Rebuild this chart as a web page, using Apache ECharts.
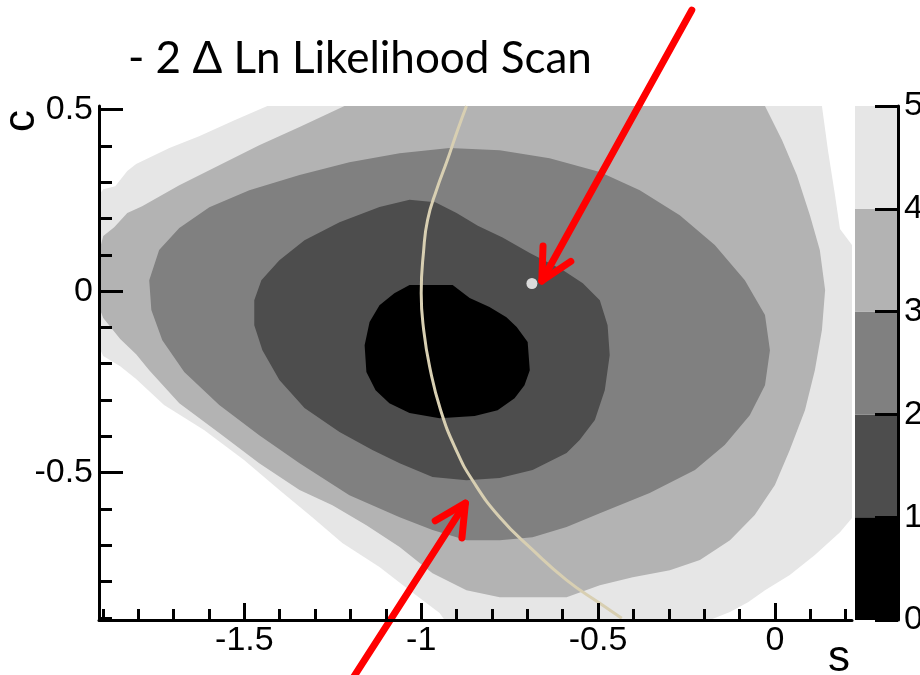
<!DOCTYPE html>
<html>
<head>
<meta charset="utf-8">
<script src="https://cdn.jsdelivr.net/npm/echarts@6/dist/echarts.min.js"></script>
<style>
  html, body { margin: 0; padding: 0; background: #ffffff; }
  #chart { width: 920px; height: 675px; }
</style>
</head>
<body>
<div id="chart"></div>
<script>
// Axis ranges of the (s, c) scan
const sRange = [-1.911, 0.218];
const cRange = [-0.906, 0.510];

// Tick positions
const sMajorTicks = [-1.5, -1, -0.5, 0];
const sMinorTicks = [-1.9, -1.8, -1.7, -1.6, -1.4, -1.3, -1.2, -1.1, -0.9, -0.8, -0.7, -0.6,
                     -0.4, -0.3, -0.2, -0.1, 0.1, 0.2];
const cMajorTicks = [-0.5, 0, 0.5];
const cMinorTicks = [0.4, 0.3, 0.2, 0.1, -0.1, -0.2, -0.3, -0.4, -0.6, -0.7, -0.8, -0.9];

// Colour scale: -2 dLnL bands [0,1), [1,2), ... [4,5)
const zLevels = [0, 1, 2, 3, 4, 5];
const bandColors = ['#000000', '#4d4d4d', '#808080', '#b3b3b3', '#e6e6e6'];

// Contour outlines [s, c]: region where -2 dLnL is below the level
const contourBelow5 = [
  [-1.435, 0.510], [0.133, 0.510], [0.150, 0.388], [0.170, 0.264], [0.184, 0.171],
  [0.218, 0.127], [0.218, -0.625], [0.184, -0.664], [0.113, -0.727], [0.042, -0.782],
  [-0.028, -0.824], [-0.076, -0.857], [-0.127, -0.884], [-0.184, -0.906], [-0.934, -0.906],
  [-0.948, -0.887], [-1.033, -0.824], [-1.118, -0.760], [-1.223, -0.694], [-1.308, -0.623],
  [-1.401, -0.548], [-1.500, -0.466], [-1.613, -0.383], [-1.727, -0.314], [-1.806, -0.242],
  [-1.851, -0.207], [-1.899, -0.179], [-1.911, -0.154], [-1.911, 0.264], [-1.899, 0.281],
  [-1.865, 0.289], [-1.831, 0.331], [-1.806, 0.350], [-1.712, 0.394], [-1.628, 0.427],
  [-1.528, 0.471]
];
const contourBelow4 = [
  [-1.217, 0.510], [-0.028, 0.510], [0.020, 0.416], [0.062, 0.320], [0.099, 0.209],
  [0.127, 0.113], [0.142, 0.003], [0.133, -0.107], [0.113, -0.218], [0.085, -0.328],
  [0.042, -0.438], [0.000, -0.534], [-0.057, -0.617], [-0.127, -0.686], [-0.212, -0.741],
  [-0.297, -0.769], [-0.402, -0.788], [-0.495, -0.810], [-0.589, -0.843], [-0.778, -0.843],
  [-0.872, -0.824], [-0.968, -0.777], [-1.061, -0.705], [-1.155, -0.645], [-1.251, -0.590],
  [-1.344, -0.548], [-1.458, -0.474], [-1.571, -0.391], [-1.684, -0.309], [-1.769, -0.218],
  [-1.806, -0.174], [-1.851, -0.132], [-1.899, -0.074], [-1.911, -0.044], [-1.911, 0.107],
  [-1.899, 0.152], [-1.868, 0.176], [-1.831, 0.215], [-1.789, 0.234], [-1.684, 0.292],
  [-1.571, 0.347], [-1.458, 0.402], [-1.344, 0.452]
];
const contourBelow3 = [
  [-1.769, 0.030], [-1.741, 0.113], [-1.684, 0.174], [-1.599, 0.231], [-1.486, 0.278],
  [-1.344, 0.320], [-1.203, 0.355], [-1.061, 0.380], [-0.920, 0.394], [-0.778, 0.388],
  [-0.637, 0.366], [-0.495, 0.328], [-0.382, 0.278], [-0.269, 0.209], [-0.170, 0.127],
  [-0.085, 0.030], [-0.028, -0.066], [-0.014, -0.163], [-0.028, -0.259], [-0.071, -0.342],
  [-0.142, -0.424], [-0.226, -0.493], [-0.354, -0.556], [-0.495, -0.612], [-0.589, -0.650],
  [-0.685, -0.678], [-0.778, -0.686], [-0.872, -0.686], [-0.968, -0.658], [-1.061, -0.623],
  [-1.203, -0.562], [-1.344, -0.474], [-1.458, -0.397], [-1.571, -0.314], [-1.670, -0.223],
  [-1.732, -0.135], [-1.763, -0.052]
];
const contourBelow2 = [
  [-1.472, -0.025], [-1.452, 0.030], [-1.401, 0.085], [-1.330, 0.140], [-1.231, 0.190],
  [-1.118, 0.232], [-1.033, 0.252], [-0.960, 0.245], [-0.900, 0.215], [-0.840, 0.180],
  [-0.770, 0.148], [-0.693, 0.105], [-0.600, 0.058], [-0.543, 0.022], [-0.495, -0.025],
  [-0.473, -0.094], [-0.467, -0.176], [-0.481, -0.273], [-0.509, -0.355], [-0.552, -0.410],
  [-0.589, -0.446], [-0.685, -0.493], [-0.778, -0.515], [-0.872, -0.521], [-0.968, -0.512],
  [-1.061, -0.474], [-1.138, -0.438], [-1.231, -0.388], [-1.330, -0.322], [-1.401, -0.245],
  [-1.449, -0.163], [-1.472, -0.094]
];
const contourBelow1 = [
  [-1.033, 0.017], [-0.911, 0.017], [-0.863, -0.019], [-0.807, -0.044], [-0.759, -0.072],
  [-0.730, -0.099], [-0.699, -0.140], [-0.693, -0.218], [-0.708, -0.259], [-0.736, -0.295],
  [-0.784, -0.328], [-0.849, -0.344], [-0.948, -0.350], [-1.033, -0.336], [-1.090, -0.309],
  [-1.129, -0.273], [-1.155, -0.223], [-1.160, -0.149], [-1.146, -0.085], [-1.118, -0.039],
  [-1.076, -0.006]
];

// Physical boundary curve in the (s, c) plane
const boundaryCurve = [
  [-0.872, 0.510], [-0.897, 0.444], [-0.926, 0.361], [-0.957, 0.278], [-0.982, 0.196],
  [-0.993, 0.113], [-1.000, -0.006], [-0.993, -0.107], [-0.976, -0.209], [-0.945, -0.328],
  [-0.901, -0.438], [-0.855, -0.521], [-0.778, -0.623], [-0.685, -0.713], [-0.589, -0.796],
  [-0.495, -0.860], [-0.433, -0.901]
];

// Best-fit point
const bestFit = [[-0.687, 0.021]];

// Annotation arrows: [tailS, tailC, tipS, tipC]
const arrows = [
  [-0.235, 0.774, -0.659, 0.028],
  [-1.197, -1.072, -0.875, -0.584]
];

// Fill order: outermost band first
const contourSet = [contourBelow5, contourBelow4, contourBelow3, contourBelow2, contourBelow1];
const contourFill = [bandColors[4], bandColors[3], bandColors[2], bandColors[1], bandColors[0]];

const labelFont = 'Liberation Sans';
const black = '#000000';

function tickAxis(extra) {
  return Object.assign({
    type: 'value',
    z: 10,
    splitLine: { show: false },
    axisLine: { show: false, onZero: false },
    axisLabel: { show: false }
  }, extra);
}

const chart = echarts.init(document.getElementById('chart'), null, { renderer: 'canvas' });

chart.setOption({
  animation: false,
  backgroundColor: '#ffffff',
  grid: [
    { left: 99, top: 106, width: 753, height: 514, outerBoundsMode: 'none' },
    { left: 855, top: 106, width: 43, height: 514, outerBoundsMode: 'none' }
  ],
  xAxis: [
    tickAxis({
      gridIndex: 0, min: sRange[0], max: sRange[1], position: 'bottom',
      axisLine: { show: true, onZero: false, lineStyle: { color: black, width: 3 } },
      axisTick: { show: true, inside: true, length: 17, customValues: sMajorTicks,
                  lineStyle: { color: black, width: 3 } },
      axisLabel: { show: true, customValues: sMajorTicks, margin: 4, color: black,
                   fontSize: 34, fontFamily: labelFont }
    }),
    tickAxis({
      gridIndex: 0, min: sRange[0], max: sRange[1], position: 'bottom',
      axisTick: { show: true, inside: true, length: 11, customValues: sMinorTicks,
                  lineStyle: { color: black, width: 3 } }
    }),
    { gridIndex: 1, type: 'value', min: 0, max: 1, show: false }
  ],
  yAxis: [
    tickAxis({
      gridIndex: 0, min: cRange[0], max: cRange[1], position: 'left',
      axisLine: { show: true, onZero: false, lineStyle: { color: black, width: 3 } },
      axisTick: { show: true, inside: true, length: 24, customValues: cMajorTicks,
                  lineStyle: { color: black, width: 3 } },
      axisLabel: { show: true, customValues: cMajorTicks, margin: 6, color: black,
                   fontSize: 34, fontFamily: labelFont }
    }),
    tickAxis({
      gridIndex: 0, min: cRange[0], max: cRange[1], position: 'left',
      axisTick: { show: true, inside: true, length: 13, customValues: cMinorTicks,
                  lineStyle: { color: black, width: 3 } }
    }),
    tickAxis({
      gridIndex: 1, min: zLevels[0], max: zLevels[zLevels.length - 1], interval: 1,
      position: 'right',
      axisLine: { show: true, onZero: false, lineStyle: { color: black, width: 3 } },
      axisTick: { show: true, inside: true, length: 23, lineStyle: { color: black, width: 3 } },
      axisLabel: { show: true, margin: 6, color: black, fontSize: 34, fontFamily: labelFont,
                   showMinLabel: true, showMaxLabel: true }
    })
  ],
  series: [
    {
      // filled contour bands
      type: 'custom',
      xAxisIndex: 0, yAxisIndex: 0,
      clip: true, z: 2,
      encode: { x: 0, y: 1 },
      data: contourSet.map(function (poly) { return [poly[0][0], poly[0][1]]; }),
      renderItem: function (params, api) {
        const poly = contourSet[params.dataIndex];
        return {
          type: 'polygon',
          shape: { points: poly.map(function (p) { return api.coord(p); }) },
          style: { fill: contourFill[params.dataIndex], stroke: null }
        };
      }
    },
    {
      type: 'line',
      xAxisIndex: 0, yAxisIndex: 0,
      z: 3,
      data: boundaryCurve,
      smooth: true,
      showSymbol: false,
      symbol: 'none',
      lineStyle: { color: '#d8cfb2', width: 3 }
    },
    {
      type: 'scatter',
      xAxisIndex: 0, yAxisIndex: 0,
      z: 4,
      data: bestFit,
      symbol: 'circle',
      symbolSize: 11,
      itemStyle: { color: '#ffffff' }
    },
    {
      // red annotation arrows
      type: 'custom',
      xAxisIndex: 0, yAxisIndex: 0,
      clip: false, z: 6,
      encode: { x: [0, 2], y: [1, 3] },
      data: arrows,
      renderItem: function (params, api) {
        const tail = api.coord([api.value(0), api.value(1)]);
        const tip = api.coord([api.value(2), api.value(3)]);
        const ang = Math.atan2(tail[1] - tip[1], tail[0] - tip[0]);
        const headLen = 35, spread = 27 * Math.PI / 180;
        const h1 = [tip[0] + headLen * Math.cos(ang + spread), tip[1] + headLen * Math.sin(ang + spread)];
        const h2 = [tip[0] + headLen * Math.cos(ang - spread), tip[1] + headLen * Math.sin(ang - spread)];
        const stroke = { stroke: '#ff0000', lineWidth: 7, lineCap: 'round', lineJoin: 'round', fill: null };
        return {
          type: 'group',
          children: [
            { type: 'line', shape: { x1: tail[0], y1: tail[1], x2: tip[0], y2: tip[1] }, style: stroke },
            { type: 'polyline', shape: { points: [h1, tip, h2] }, style: stroke }
          ]
        };
      }
    },
    {
      // colour scale bar
      type: 'custom',
      xAxisIndex: 2, yAxisIndex: 2,
      clip: false, z: 2,
      encode: { x: 0, y: [1, 2] },
      data: bandColors.map(function (c, i) { return [0, zLevels[i], zLevels[i + 1]]; }),
      renderItem: function (params, api) {
        const p0 = api.coord([0, api.value(2)]);
        const p1 = api.coord([1, api.value(1)]);
        return {
          type: 'rect',
          shape: { x: p0[0], y: p0[1], width: p1[0] - p0[0], height: p1[1] - p0[1] },
          style: { fill: bandColors[params.dataIndex] }
        };
      }
    }
  ],
  graphic: [
    {
      type: 'text', x: 128, y: 59, z: 20,
      style: { text: '- 2 \u0394 Ln Likelihood Scan', fontSize: 44, fontFamily: 'Lato',
               fill: black, align: 'left', verticalAlign: 'middle' }
    },
    {
      type: 'text', x: 22, y: 121, rotation: Math.PI / 2, z: 20,
      style: { text: 'c', fontSize: 44, fontFamily: labelFont, fill: black,
               align: 'center', verticalAlign: 'middle' }
    },
    {
      type: 'text', x: 839, y: 659, z: 20,
      style: { text: 's', fontSize: 44, fontFamily: labelFont, fill: black,
               align: 'center', verticalAlign: 'middle' }
    }
  ]
});
</script>
</body>
</html>
